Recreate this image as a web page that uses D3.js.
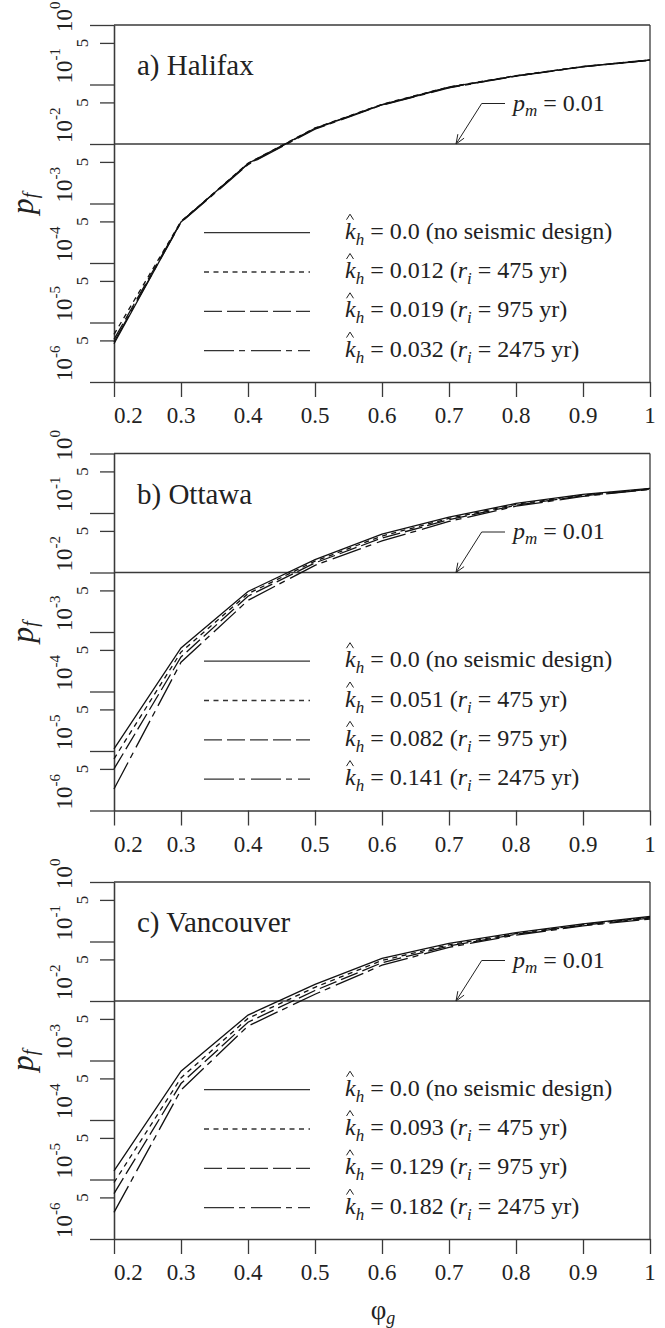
<!DOCTYPE html>
<html>
<head>
<meta charset="utf-8">
<script src="https://cdn.jsdelivr.net/npm/d3@7"></script>
<style>
  body { margin: 0; background: #fff; }
  svg { display: block; }
</style>
</head>
<body>
<svg id="chart" width="665" height="1328"></svg>
<script>
'use strict'

// data
const phiG = [0.2, 0.3, 0.4, 0.5, 0.6, 0.7, 0.8, 0.9, 1.0]

const halifaxNone = [4.4e-6, 4.9e-4, 4.7e-3, 0.0184, 0.046, 0.090, 0.140, 0.200, 0.258]
const halifax475 = [6.3e-6, 5.0e-4, 4.75e-3, 0.0186, 0.0465, 0.091, 0.141, 0.201, 0.259]
const halifax975 = [5.2e-6, 4.95e-4, 4.6e-3, 0.0181, 0.0455, 0.089, 0.139, 0.199, 0.257]
const halifax2475 = [4.7e-6, 4.8e-4, 4.5e-3, 0.0178, 0.045, 0.088, 0.138, 0.198, 0.256]

const ottawaNone = [1.09e-5, 5.4e-4, 4.8e-3, 0.0165, 0.044, 0.085, 0.145, 0.205, 0.26]
const ottawa475 = [7.4e-6, 4.6e-4, 4.4e-3, 0.0155, 0.041, 0.081, 0.140, 0.200, 0.255]
const ottawa975 = [5.0e-6, 3.8e-4, 4.0e-3, 0.0145, 0.038, 0.077, 0.135, 0.195, 0.252]
const ottawa2475 = [2.3e-6, 3.1e-4, 3.4e-3, 0.0132, 0.034, 0.072, 0.130, 0.190, 0.25]

const vancouverNone = [1.4e-5, 6.6e-4, 5.8e-3, 0.019, 0.052, 0.093, 0.141, 0.198, 0.263]
const vancouver475 = [8.9e-6, 5.1e-4, 5.1e-3, 0.017, 0.048, 0.088, 0.136, 0.193, 0.255]
const vancouver975 = [5.8e-6, 4.1e-4, 4.4e-3, 0.015, 0.044, 0.084, 0.132, 0.188, 0.247]
const vancouver2475 = [2.8e-6, 3.2e-4, 3.8e-3, 0.013, 0.040, 0.080, 0.128, 0.183, 0.238]

const panelTitles = ['a) Halifax', 'b) Ottawa', 'c) Vancouver']
const kHalifax = ['0.012', '0.019', '0.032']
const kOttawa = ['0.051', '0.082', '0.141']
const kVancouver = ['0.093', '0.129', '0.182']
const returnPeriods = ['475', '975', '2475']

const xTicks = [0.2, 0.3, 0.4, 0.5, 0.6, 0.7, 0.8, 0.9, 1]
const xTickLabels = ['0.2', '0.3', '0.4', '0.5', '0.6', '0.7', '0.8', '0.9', '1']
const yDecades = [0, -1, -2, -3, -4, -5, -6]
const pm = 0.01

const panels = [
    { title: panelTitles[0], k: kHalifax, series: [halifaxNone, halifax475, halifax975, halifax2475] },
    { title: panelTitles[1], k: kOttawa, series: [ottawaNone, ottawa475, ottawa975, ottawa2475] },
    { title: panelTitles[2], k: kVancouver, series: [vancouverNone, vancouver475, vancouver975, vancouver2475] }
]

const dashes = ['none', '5,4.5', '18,5', '30,5,6,6']
const ink = '#222'
const frame = '#3a3a3a'

const svg = d3.select('#chart')
const panelTop = [25, 453.5, 882]
const height = 357

const x = d3.scaleLinear().domain([0.2, 1]).range([114, 650])
const y = d3.scaleLog().domain([1e-6, 1]).range([height, 0])

const line = d3.line().x(d => x(d[0])).y(d => y(d[1]))

panels.forEach((panel, i) => {
    let g = svg.append('g').attr('transform', `translate(0, ${panelTop[i]})`)

    // left axis, long ticks at decades, short ones at 5
    g.append('g')
        .attr('transform', `translate(${x(0.2)}, 0)`)
        .call(d3.axisLeft(y).tickValues(yDecades.map(d => Math.pow(10, d))).tickSize(24).tickSizeOuter(0).tickFormat(''))
    g.append('g')
        .attr('transform', `translate(${x(0.2)}, 0)`)
        .call(d3.axisLeft(y).tickValues(yDecades.slice(1).map(d => 5 * Math.pow(10, d))).tickSize(14).tickSizeOuter(0).tickFormat(''))

    g.append('g')
        .attr('transform', `translate(0, ${height})`)
        .call(d3.axisBottom(x).tickValues(xTicks).tickSize(15).tickSizeOuter(0).tickFormat(''))

    g.append('line').attr('x1', x(0.2)).attr('x2', x(1)).attr('y1', y(1)).attr('y2', y(1))
    g.append('line').attr('x1', x(1)).attr('x2', x(1)).attr('y1', y(1)).attr('y2', height)
    g.append('line').attr('x1', x(0.2)).attr('x2', x(1)).attr('y1', y(pm)).attr('y2', y(pm))

    g.selectAll('line, path.domain')
        .attr('stroke', frame)
        .attr('stroke-width', 1.3)

    // tick labels
    g.selectAll('.xlab')
        .data(xTicks)
        .enter()
        .append('text')
        .attr('x', d => x(d))
        .attr('y', height + 41)
        .attr('text-anchor', (d, j) => j === 0 ? 'start' : 'middle')
        .attr('font-size', 23)
        .text((d, j) => xTickLabels[j])

    let dec = g.selectAll('.ydec')
        .data(yDecades)
        .enter()
        .append('text')
        .attr('transform', d => `translate(72, ${y(Math.pow(10, d)) + (d === 0 ? 7 : -1)}) rotate(-90)`)
        .attr('font-size', 23)
    dec.append('tspan').text('10')
    dec.append('tspan').attr('font-size', 15).attr('dy', -12).text(d => d === 0 ? '0' : '-' + (-d))

    g.selectAll('.yfive')
        .data(yDecades.slice(1))
        .enter()
        .append('text')
        .attr('transform', d => `translate(88, ${y(5 * Math.pow(10, d))}) rotate(-90)`)
        .attr('text-anchor', 'middle')
        .attr('font-size', 17)
        .text('5')

    // y title
    let yt = g.append('text')
        .attr('transform', `translate(33, ${height / 2}) rotate(-90)`)
        .attr('text-anchor', 'middle')
        .attr('font-style', 'italic')
    yt.append('tspan').attr('font-size', 32).text('p')
    yt.append('tspan').attr('font-size', 20).attr('dy', 4).text('f')

    // curves
    panel.series.forEach((s, j) => {
        g.append('path')
            .datum(phiG.map((p, n) => [p, s[n]]))
            .attr('d', line)
            .attr('fill', 'none')
            .attr('stroke', '#111')
            .attr('stroke-width', 1.3)
            .attr('stroke-dasharray', dashes[j])
    })

    // panel title
    g.append('text')
        .attr('x', 137)
        .attr('y', 50)
        .attr('font-size', 29)
        .text(panel.title)

    // p_m annotation
    let y0 = y(pm)
    let tipX = 456, elbowX = 481.7, lead = 40.5
    g.append('path')
        .attr('d', `M505,${y0 - lead}H${elbowX}L${tipX},${y0}`)
        .attr('fill', 'none')
        .attr('stroke', ink)
        .attr('stroke-width', 1)
    let ang = Math.atan2(-lead, elbowX - tipX)
    let arm = 10
    g.append('path')
        .attr('d', `M${tipX + arm * Math.cos(ang - 0.38)},${y0 + arm * Math.sin(ang - 0.38)}L${tipX},${y0}L${tipX + arm * Math.cos(ang + 0.38)},${y0 + arm * Math.sin(ang + 0.38)}`)
        .attr('fill', 'none')
        .attr('stroke', ink)
        .attr('stroke-width', 1)
    let pt = g.append('text')
        .attr('x', 513)
        .attr('y', y0 - lead + 7)
        .attr('font-size', 24)
    pt.append('tspan').attr('font-style', 'italic').text('p')
    pt.append('tspan').attr('font-style', 'italic').attr('font-size', 17).attr('dy', 5).text('m')
    pt.append('tspan').attr('dy', -5).text(' = 0.01')

    // legend
    let rows = g.selectAll('.legend')
        .data(dashes)
        .enter()
        .append('g')
        .attr('transform', (d, j) => `translate(0, ${207.7 + j * 39.3})`)

    rows.append('line')
        .attr('x1', 204)
        .attr('x2', 310)
        .attr('stroke', '#333')
        .attr('stroke-width', 1.3)
        .attr('stroke-dasharray', d => d)

    rows.append('path')
        .attr('d', 'M346.5,-13L350,-18.5L353.5,-13')
        .attr('fill', 'none')
        .attr('stroke', ink)
        .attr('stroke-width', 1)

    let lt = rows.append('text')
        .attr('x', 345)
        .attr('y', 6)
        .attr('font-size', 24)
    lt.append('tspan').attr('font-style', 'italic').text('k')
    lt.append('tspan').attr('font-style', 'italic').attr('font-size', 17).attr('dy', 6).text('h')
    lt.each(function (d, j) {
        let t = d3.select(this)
        if (j === 0) {
            t.append('tspan').attr('dy', -6).text(' = 0.0 (no seismic design)')
            return
        }
        t.append('tspan').attr('dy', -6).text(` = ${panel.k[j - 1]} (`)
        t.append('tspan').attr('font-style', 'italic').text('r')
        t.append('tspan').attr('font-style', 'italic').attr('font-size', 17).attr('dy', 6).text('i')
        t.append('tspan').attr('dy', -6).text(` = ${returnPeriods[j - 1]} yr)`)
    })
})

// x title
let xt = svg.append('text')
    .attr('x', 383)
    .attr('y', 1319)
    .attr('text-anchor', 'middle')
xt.append('tspan').attr('font-size', 27).text('φ')
xt.append('tspan').attr('font-size', 18).attr('font-style', 'italic').attr('dy', 5).text('g')

svg.selectAll('text').attr('font-family', 'Liberation Serif').attr('fill', ink)
</script>
</body>
</html>
